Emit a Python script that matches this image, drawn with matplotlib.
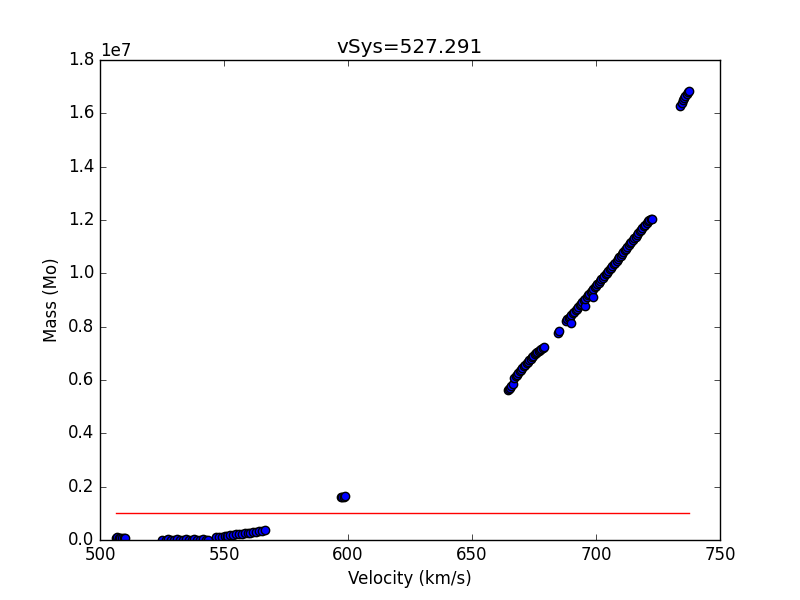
import matplotlib
matplotlib.use('Agg')
import matplotlib.pyplot as plt
import numpy as np

# velocity (km/s) and mass (units of 1e6 Mo)
vel_a = [506.5, 507.0, 507.6, 508.2, 508.9, 509.5, 510.0]
mass_a = [0.09, 0.10, 0.09, 0.08, 0.08, 0.07, 0.07]

vel_b = [525.2, 526.5, 527.6, 528.8, 530.0, 531.1, 532.3, 533.5, 534.6,
         535.8, 537.0, 538.1, 539.3, 540.4, 541.6, 542.7, 543.6]
mass_b = [0.01, 0.01, 0.02, 0.01, 0.01, 0.02, 0.01, 0.01, 0.02,
          0.01, 0.01, 0.02, 0.01, 0.01, 0.02, 0.01, 0.01]

vel_c = [546.8, 548.0, 549.1, 550.3, 551.4, 552.6, 553.7, 554.9, 556.0,
         557.2, 558.3, 559.5, 560.6, 561.8, 562.9, 564.1, 565.2, 566.4]
mass_c = [0.10, 0.12, 0.13, 0.15, 0.16, 0.18, 0.19, 0.21, 0.22,
          0.24, 0.25, 0.27, 0.28, 0.30, 0.31, 0.33, 0.35, 0.37]

vel_d = [597.0, 597.6, 598.2, 598.8]
mass_d = [1.60, 1.61, 1.63, 1.65]

vel_e = [664.4, 664.8, 665.3, 665.9, 666.4, 667.0, 667.6, 668.1, 668.7,
         669.2, 669.8, 670.3, 670.9, 671.4, 672.0, 672.5, 673.1, 673.6,
         674.2, 674.7, 675.3, 675.8, 676.4, 676.9, 677.5, 678.0, 678.6,
         679.0, 684.6, 685.0]
mass_e = [5.62, 5.66, 5.71, 5.78, 5.84, 6.08, 6.14, 6.20, 6.27,
          6.33, 6.39, 6.45, 6.51, 6.56, 6.62, 6.68, 6.74, 6.79,
          6.85, 6.90, 6.96, 7.01, 7.06, 7.10, 7.14, 7.18, 7.21,
          7.24, 7.78, 7.84]

vel_f = [687.9, 688.4, 689.0, 689.5, 690.0, 690.1, 690.7, 691.2, 691.8,
         692.3, 692.9, 693.4, 694.0, 694.5, 695.1, 695.6, 695.6, 696.2,
         696.7, 697.3, 697.8, 698.4, 698.8, 698.9, 699.5, 700.0, 700.6,
         701.1, 701.7, 702.2, 702.8, 703.3, 703.9, 704.4, 705.0, 705.5,
         706.1, 706.6, 707.2, 707.7, 708.3, 708.8, 709.4, 709.9, 710.5,
         711.0, 711.6, 712.1, 712.7, 713.2, 713.8, 714.3, 714.9, 715.4,
         716.0, 716.5, 717.1, 717.6, 718.2, 718.7, 719.3, 719.8, 720.4,
         720.9, 721.5, 722.0, 722.4]
mass_f = [8.22, 8.28, 8.33, 8.38, 8.15, 8.43, 8.50, 8.56, 8.62,
          8.68, 8.74, 8.80, 8.86, 8.93, 8.99, 8.77, 9.05, 9.11,
          9.17, 9.23, 9.29, 9.35, 9.10, 9.41, 9.47, 9.53, 9.59,
          9.65, 9.71, 9.77, 9.84, 9.90, 9.96, 10.02, 10.09, 10.15,
          10.21, 10.27, 10.34, 10.40, 10.47, 10.53, 10.60, 10.66, 10.73,
          10.79, 10.86, 10.92, 10.99, 11.05, 11.12, 11.18, 11.25, 11.31,
          11.38, 11.44, 11.51, 11.57, 11.64, 11.70, 11.77, 11.83, 11.89,
          11.95, 11.99, 12.02, 12.04]

vel_g = [733.9, 734.5, 735.0, 735.5, 736.0, 736.5, 737.0, 737.5]
mass_g = [16.27, 16.40, 16.50, 16.58, 16.66, 16.73, 16.79, 16.84]

v_sys = 527.291
mass_limit = 1e6

vel = np.array(vel_a + vel_b + vel_c + vel_d + vel_e + vel_f + vel_g)
mass = np.array(mass_a + mass_b + mass_c + mass_d + mass_e + mass_f + mass_g) * 1e6

plt.style.use('classic')
plt.rcParams['figure.facecolor'] = 'white'
plt.rcParams['savefig.facecolor'] = 'white'

fig = plt.figure(figsize=(8, 6), dpi=100)
plt.scatter(vel, mass, s=36, c='b', edgecolors='k')
plt.plot([vel.min(), vel.max()], [mass_limit, mass_limit], 'r')
plt.xlim(500, 750)
plt.ylim(0, 1.8e7)
plt.xlabel('Velocity (km/s)')
plt.ylabel('Mass (Mo)')
plt.title('vSys=%.3f' % v_sys)

plt.savefig('out.png', dpi=100)
plt.close()
